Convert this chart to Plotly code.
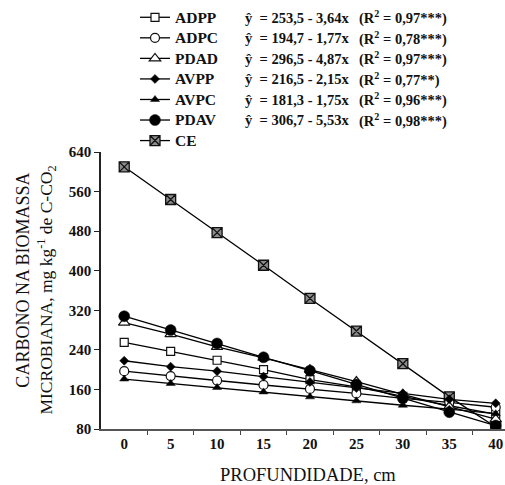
import plotly.graph_objects as go

depth = [0, 5, 10, 15, 20, 25, 30, 35, 40]
ADPP = [255, 237, 219, 200, 180, 165, 146, 127, 110]
ADPC = [197, 187, 178, 169, 161, 152, 142, 134, 124]
PDAD = [295, 272, 246, 224, 200, 176, 150, 125, 100]
AVPP = [218, 206, 197, 186, 175, 163, 152, 140, 132]
AVPC = [181, 172, 164, 155, 145, 137, 128, 120, 111]
PDAV = [308, 280, 253, 225, 198, 170, 142, 114, 87]
CE = [610, 544, 477, 411, 344, 278, 212, 145, 84]

names = ["ADPP", "ADPC", "PDAD", "AVPP", "AVPC", "PDAV", "CE"]
series = [ADPP, ADPC, PDAD, AVPP, AVPC, PDAV, CE]
equations = ["253,5 - 3,64x", "194,7 - 1,77x", "296,5 - 4,87x", "216,5 - 2,15x",
             "181,3 - 1,75x", "306,7 - 5,53x"]
r2 = ["0,97***", "0,78***", "0,97***", "0,77**", "0,96***", "0,98***"]

styles = [
    dict(symbol="square", size=8, color="white", lw=1.2),
    dict(symbol="circle", size=9, color="white", lw=1.2),
    dict(symbol="triangle-up", size=10, color="white", lw=1.2),
    dict(symbol="diamond", size=7, color="black", lw=0.5),
    dict(symbol="triangle-up", size=8, color="black", lw=0.5),
    dict(symbol="circle", size=11, color="black", lw=0.5),
    dict(symbol="square-x", size=10, color="#8c8c8c", lw=1.3),
]

W, H = 505, 485
L, R, T, B = 100.7, 0, 151.5, 56
pw, ph = W - L - R, H - T - B

def px2x(px):
    return (px - L) / pw

def py2y(py):
    return (H - B - py) / ph

serif = "Liberation Serif, Times New Roman, serif"

fig = go.Figure()
# draw CE first so the other series sit on top of it; legend order kept by legendrank
order = [6, 0, 1, 2, 3, 4, 5]
for k in order:
    n, s, st = names[k], series[k], styles[k]
    fig.add_trace(go.Scatter(
        x=depth, y=s, mode="lines+markers", legendrank=k + 1,
        name='<span style="font-size:15.5px"><b>' + n + '</b></span>',
        line=dict(color="black", width=1.3),
        marker=dict(symbol=st["symbol"], size=st["size"], color=st["color"],
                    line=dict(color="#111", width=st["lw"])),
    ))

ann = []
row0, rowh = 17, 20.55
for i, (eq, r) in enumerate(zip(equations, r2)):
    yy = py2y(row0 + rowh * i)
    ann.append(dict(x=px2x(243), y=yy, xref="paper", yref="paper", xanchor="left",
                    yanchor="middle", showarrow=False,
                    text="<b>ŷ\u00a0\u00a0= " + eq + "</b>",
                    font=dict(family=serif, size=14.5, color="#111")))
    ann.append(dict(x=px2x(357), y=yy, xref="paper", yref="paper", xanchor="left",
                    yanchor="middle", showarrow=False,
                    text="<b>(R<sup>2</sup> = " + r + ")</b>",
                    font=dict(family=serif, size=14.5, color="#111")))

ann.append(dict(x=px2x(23), y=py2y(280), xref="paper", yref="paper", textangle=-90,
                xanchor="center", yanchor="middle",
                showarrow=False, text="CARBONO NA BIOMASSA",
                font=dict(family=serif, size=18, color="#111")))
ann.append(dict(x=px2x(46), y=py2y(290), xref="paper", yref="paper", textangle=-90,
                xanchor="center", yanchor="middle",
                showarrow=False, text="MICROBIANA, mg kg<sup>-1</sup> de C-CO<sub>2</sub>",
                font=dict(family=serif, size=17.5, color="#111")))
ann.append(dict(x=px2x(308), y=py2y(475), xref="paper", yref="paper",
                xanchor="center", yanchor="middle",
                showarrow=False, text="PROFUNDIDADE, cm",
                font=dict(family=serif, size=18.5, color="#111")))

fig.update_layout(
    width=W, height=H,
    margin=dict(l=L, r=R, t=T, b=B, pad=0, autoexpand=False),
    paper_bgcolor="white", plot_bgcolor="white",
    showlegend=True,
    legend=dict(xref="container", yref="container", x=135 / W, y=1 - 2 / H,
                xanchor="left", yanchor="top", bgcolor="rgba(0,0,0,0)",
                font=dict(family=serif, size=13.5, color="#111"),
                itemclick=False),
    annotations=ann,
    font=dict(family=serif),
)
fig.update_xaxes(range=[-2.5, 41], showgrid=False, zeroline=False,
                 showline=True, linecolor="#555", linewidth=2,
                 tickvals=depth, ticktext=[f"<b>{d}</b>" for d in depth],
                 ticks="", tickfont=dict(family=serif, size=15, color="#111"),
                 minor=dict(tickvals=[2.5 + 5 * k for k in range(8)], ticks="outside",
                            ticklen=4, tickcolor="#444", tickwidth=1))
fig.update_yaxes(range=[80, 640], showgrid=False, zeroline=False,
                 showline=True, linecolor="#222", linewidth=1.5,
                 tickvals=list(range(80, 641, 80)),
                 ticktext=[f"<b>{v}</b>" for v in range(80, 641, 80)],
                 ticks="outside", ticklen=5, tickcolor="#222",
                 tickfont=dict(family=serif, size=15, color="#111"))

fig.write_html("out.html", config={"displayModeBar": False},
               post_script="document.body.style.margin='0px';")
